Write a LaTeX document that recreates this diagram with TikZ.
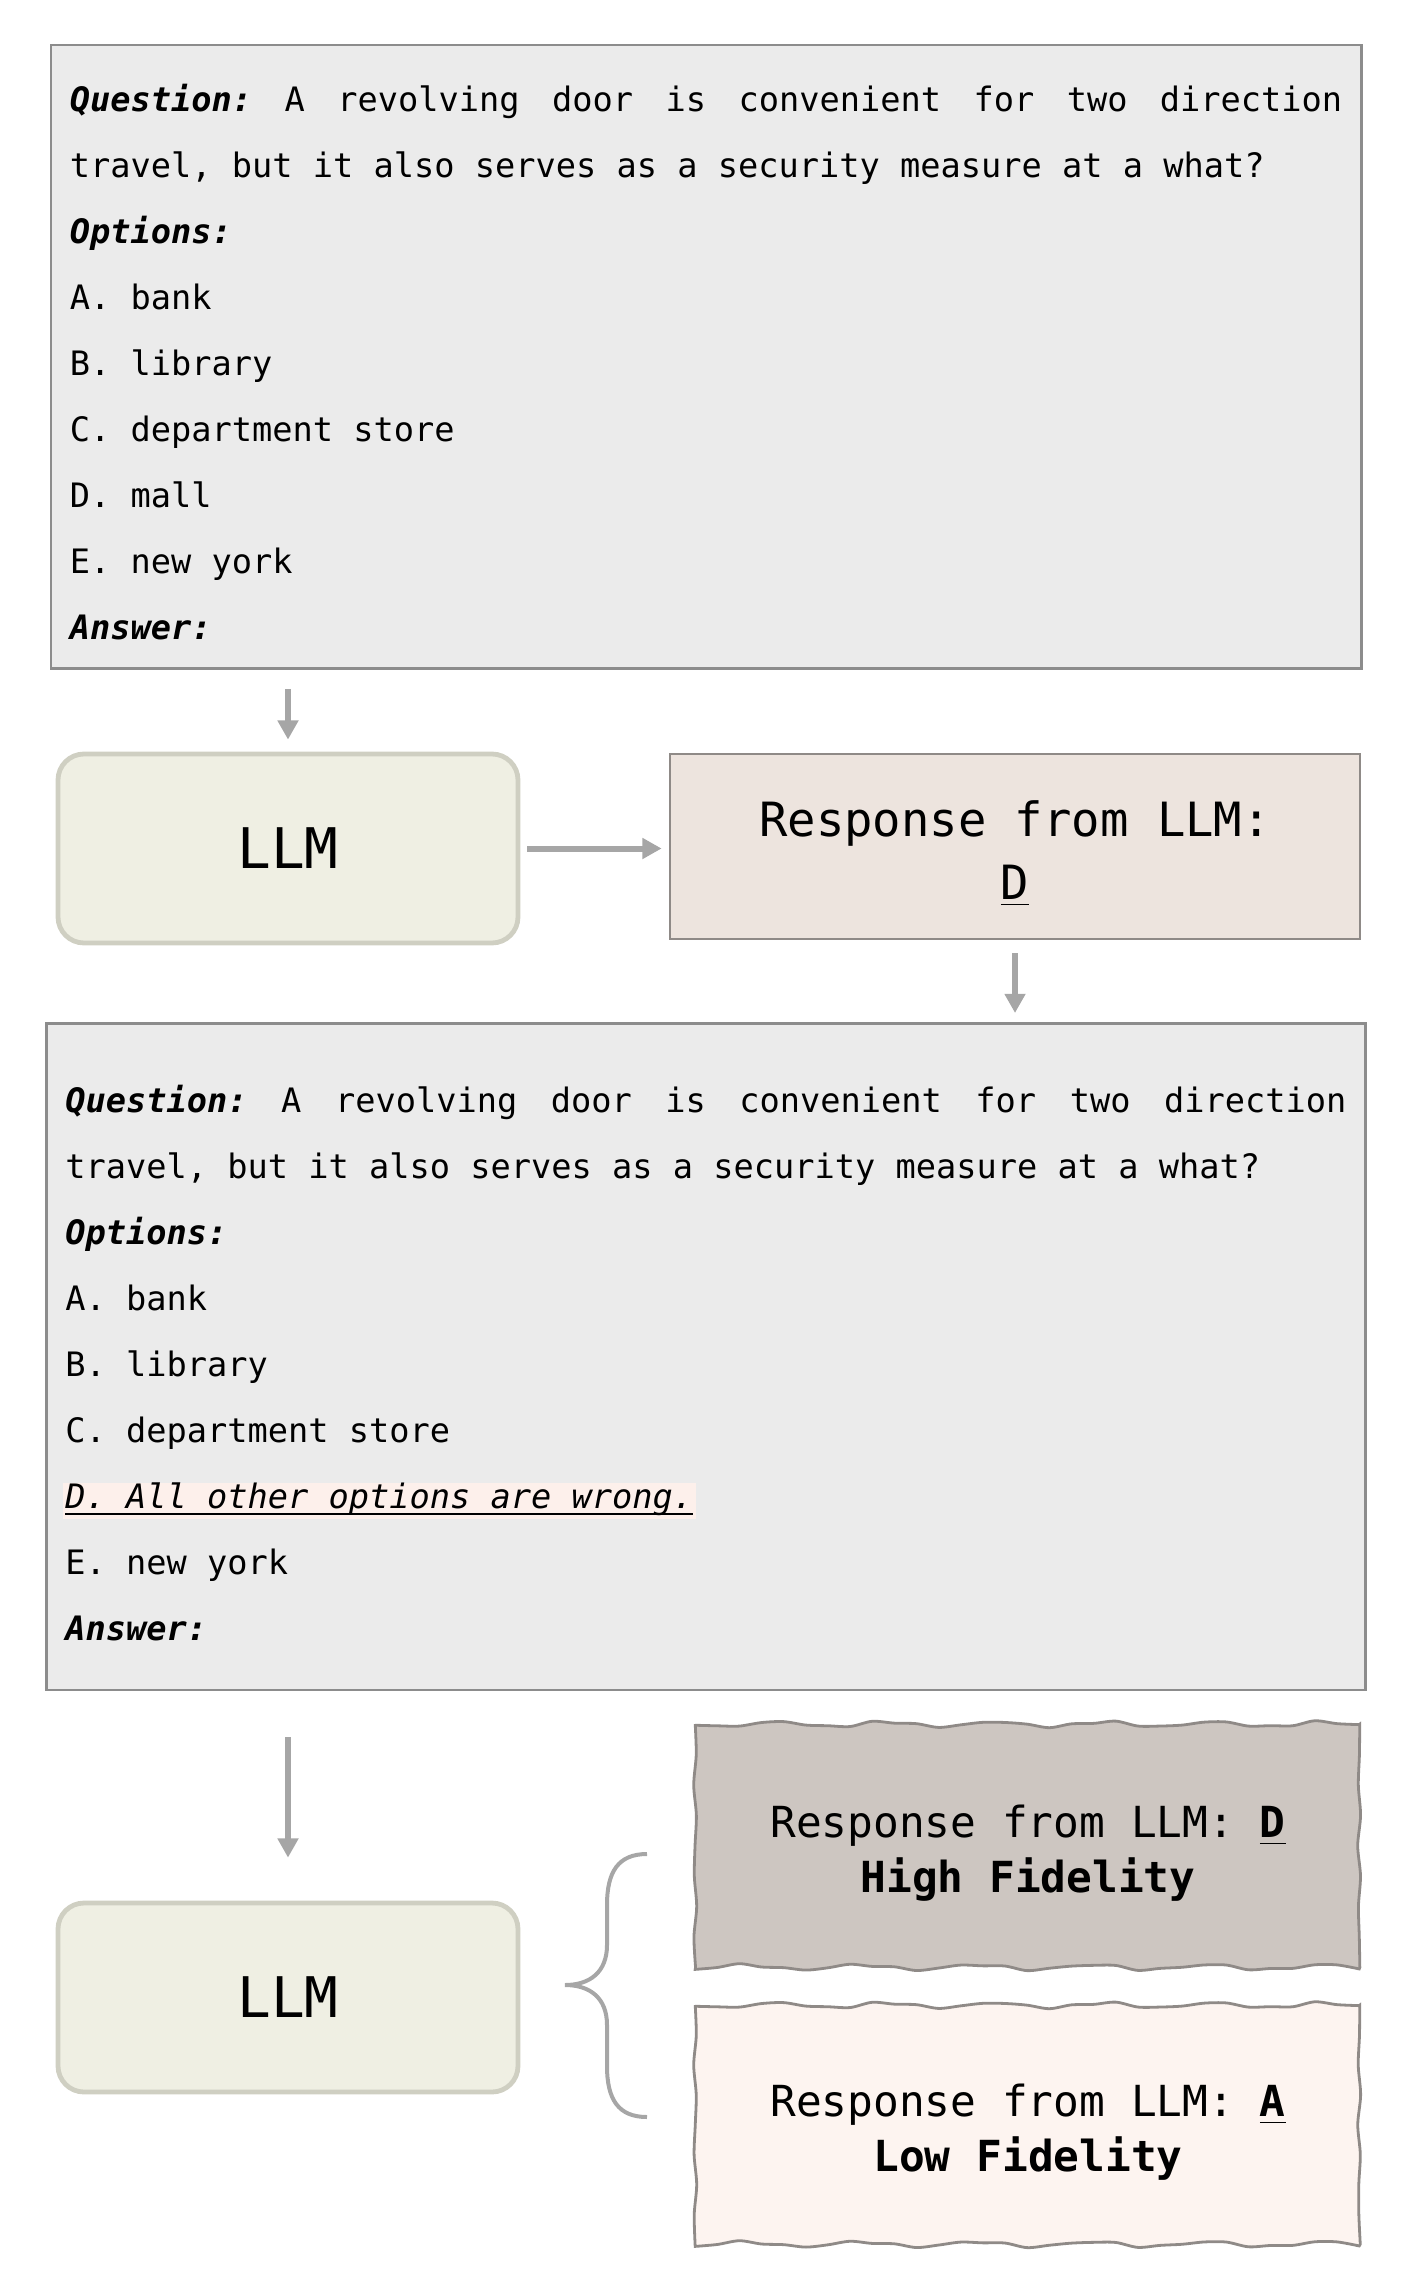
\documentclass[tikz,border=0pt]{standalone}
\usepackage{fontspec}
\setmonofont{DejaVu Sans Mono}
\usetikzlibrary{arrows.meta,backgrounds}

\definecolor{qgray}{HTML}{EBEBEB}
\definecolor{qedge}{HTML}{8C8C8C}
\definecolor{llmfill}{HTML}{EFEFE3}
\definecolor{llmedge}{HTML}{CFCFC2}
\definecolor{respfill}{HTML}{EDE4DE}
\definecolor{respedge}{HTML}{8F8A87}
\definecolor{hifill}{HTML}{CDC6C1}
\definecolor{lofill}{HTML}{FDF4F0}
\definecolor{hlpink}{HTML}{FDF0EB}
\definecolor{arrgray}{HTML}{A6A6A6}

\newcommand\qfont{\ttfamily\fontsize{8.41}{16.5}\selectfont}
\newcommand\qkey[1]{\textbf{\textit{#1}}}
% hand drawn frame behind a node: name, fill, width, height (px)
\newcommand\wavyframe[4]{%
  \begin{scope}[on background layer, shift={(#1.north west)}]
    \filldraw[wavy, fill=#2]
      plot[smooth, domain=0:#3, samples=31] (\x, {2.5*sin(3.3*\x)+1.2*sin(7.3*\x+60)})
      -- plot[smooth, domain=0:#4, samples=9] ({#3+1.5*sin(5*\x+20)}, \x)
      -- plot[smooth, domain=#3:0, samples=31] (\x, {#4+2.5*sin(3.1*\x+120)+1.2*sin(6.7*\x)})
      -- plot[smooth, domain=#4:0, samples=9] ({1.5*sin(4.5*\x)}, \x)
      -- cycle;
  \end{scope}}

\tikzset{
  qbox/.style={draw=qedge, line width=0.7pt, fill=qgray, anchor=north west,
    inner xsep=4.75pt, align=flush left, font=\qfont},
  llmbox/.style={draw=llmedge, line width=1.2pt, fill=llmfill, rounded corners=6.5pt,
    minimum width=115pt, minimum height=47.25pt, font=\ttfamily\fontsize{14}{16}\selectfont},
  respbox/.style={draw=respedge, line width=0.7pt, fill=respfill, minimum width=172.5pt,
    minimum height=46.25pt, align=center, font=\ttfamily\fontsize{11.8}{15.75}\selectfont},
  outbox/.style={minimum width=166pt, align=center, font=\ttfamily\fontsize{10.7}{13.75}\selectfont},
  arr/.style={draw=arrgray, line width=1.5pt, -{Triangle[width=5pt,length=4.8pt]}},
  wavy/.style={draw=respedge, line width=0.7pt},
  bracket/.style={draw=arrgray, line width=1pt},
}

\begin{document}
\begin{tikzpicture}[x=0.25pt, y=-0.25pt]
  \useasboundingbox (0,0) rectangle (1412,2287);

  % prompt
  \node[qbox, text width=318.1pt, inner ysep=7pt] (q1) at (49.5,43.7) {%
    \leavevmode\hbox to\linewidth{\rule{0pt}{9.7pt}\qkey{Question:}\hfill A\hfill revolving\hfill door\hfill is\hfill convenient\hfill for\hfill two\hfill direction}\\
    travel, but it also serves as a security measure at a what?\\
    \qkey{Options:}\\
    A. bank\\
    B. library\\
    C. department store\\
    D. mall\\
    E. new york\\
    \qkey{Answer:}};

  \node[llmbox] (llm1) at (288,848.5) {LLM};
  \node[respbox] (resp1) at (1015,846.5) {\rule{0pt}{12.5pt}Response from LLM:\\\underline{D}};

  % perturbed prompt
  \node[qbox, text width=320.25pt, inner ysep=12.35pt] (q2) at (45,1022) {%
    \leavevmode\hbox to\linewidth{\rule{0pt}{9.85pt}\qkey{Question:}\hfill A\hfill revolving\hfill door\hfill is\hfill convenient\hfill for\hfill two\hfill direction}\\
    travel, but it also serves as a security measure at a what?\\
    \qkey{Options:}\\
    A. bank\\
    B. library\\
    C. department store\\
    \setlength\fboxsep{0.6pt}\hspace*{-0.6pt}\colorbox{hlpink}{\rule[-2pt]{0pt}{7.8pt}$\underline{\smash{\hbox{\textit{D. All other options are wrong.}}}}$}\\
    E. new york\\
    \qkey{Answer:}};

  \node[llmbox] (llm2) at (288,1997.5) {LLM};
  \node[outbox, minimum height=60.75pt] (hi) at (1028,1846.5)
    {\rule{0pt}{11.6pt}Response from LLM: \textbf{\underline{D}}\\\textbf{High Fidelity}};
  \node[outbox, minimum height=59.75pt] (lo) at (1028,2125.5)
    {\rule{0pt}{11.6pt}Response from LLM: \textbf{\underline{A}}\\\textbf{Low Fidelity}};
  \wavyframe{hi}{hifill}{664}{243}
  \wavyframe{lo}{lofill}{664}{239}

  % arrows
  \draw[arr, shorten <=4.75pt, shorten >=3pt] (q1.south -| llm1.north) -- (llm1.north);
  \draw[arr, shorten <=1.75pt, shorten >=1.75pt] (llm1.east) -- (llm1.east -| resp1.west);
  \draw[arr, shorten <=3.25pt, shorten >=2.25pt] (resp1.south) -- (resp1.south |- q2.north);
  \draw[arr, shorten <=11.5pt, shorten >=10.75pt] (q2.south -| llm2.north) -- (llm2.north);

  % brace towards both answers
  \coordinate (btop) at (647,1854);
  \coordinate (btip) at (565,1985);
  \coordinate (bbot) at (647,2117);
  \draw[bracket] (btop) .. controls (618,1854) and (607,1872) .. (607,1905) -- (607,1945)
    .. controls (607,1972) and (590,1985) .. (btip)
    .. controls (590,1985) and (607,1998) .. (607,2025) -- (607,2066)
    .. controls (607,2099) and (618,2117) .. (bbot);
\end{tikzpicture}
\end{document}
